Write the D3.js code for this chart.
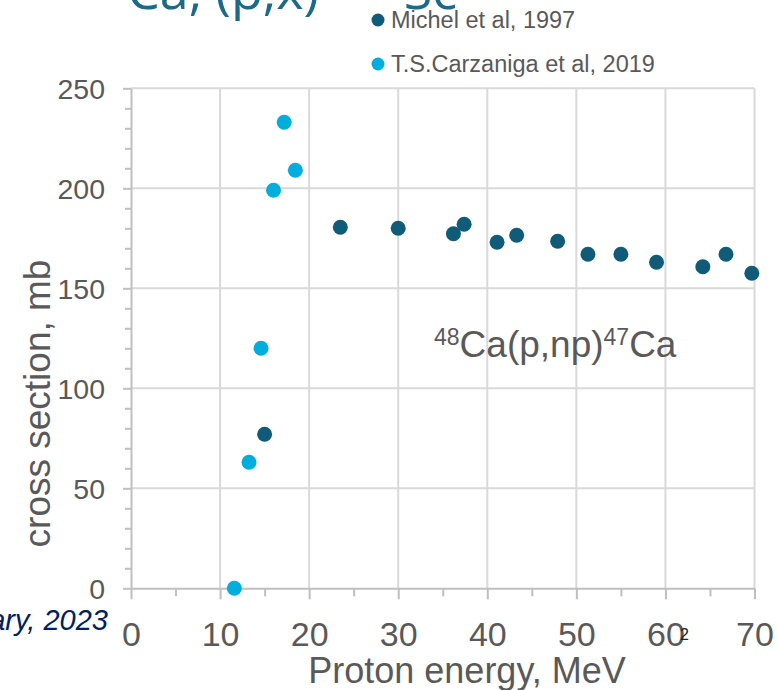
<!DOCTYPE html>
<html>
<head>
<meta charset="utf-8">
<script src="https://cdn.jsdelivr.net/npm/d3@7"></script>
<style>
  html, body { margin: 0; padding: 0; background: #ffffff; }
  svg { display: block; }
</style>
</head>
<body>
<script>
// ---- data ----
const seriesNames = ["Michel et al, 1997", "T.S.Carzaniga et al, 2019"];
const michelEnergy = [15.0, 23.5, 30.0, 36.2, 37.4, 41.1, 43.3, 47.9, 51.3, 55.0, 59.0, 64.2, 66.8, 69.7];
const michelXS     = [77, 180.5, 180, 177.3, 182, 173, 176.5, 173.5, 167, 167, 163, 160.8, 167, 157.5];
const carzEnergy   = [11.6, 13.25, 14.6, 16.0, 17.2, 18.45];
const carzXS       = [0, 63, 120, 199, 233, 209];
const xTicks = [0, 10, 20, 30, 40, 50, 60, 70];
const yTicks = [0, 50, 100, 150, 200, 250];
const xMinorTicks = [5, 15, 25, 35, 45, 55, 65];
const yMinorTicks = [10, 20, 30, 40, 60, 70, 80, 90, 110, 120, 130, 140, 160, 170, 180, 190, 210, 220, 230, 240];

const colMichel = "#105b78";
const colCarz = "#00aede";
const textGray = "#595959";

const W = 778, H = 690;
const svg = d3.select("body").append("svg").attr("width", W).attr("height", H);
svg.append("rect").attr("width", W).attr("height", H).attr("fill", "#fff");

const x = d3.scaleLinear().domain([0, 70]).range([131, 754.5]);
const y = d3.scaleLinear().domain([0, 250]).range([588.3, 88.3]);

// slide title (mostly above the visible area)
const title = svg.append("text")
  .attr("x", 127).attr("y", 9)
  .attr("font-family", "'Open Sans', sans-serif")
  .attr("font-size", 52)
  .attr("fill", "#1b6a89");
title.append("tspan").text("Ca, (p,x)");
title.append("tspan").attr("dx", 85).text("Sc");

// gridlines
svg.append("g").selectAll("line").data(xTicks.filter(d => d > 0)).join("line")
  .attr("x1", d => x(d)).attr("x2", d => x(d))
  .attr("y1", y(250)).attr("y2", y(0))
  .attr("stroke", "#d9d9d9").attr("stroke-width", 2);
svg.append("g").selectAll("line").data(yTicks.filter(d => d > 0)).join("line")
  .attr("x1", x(0)).attr("x2", x(70))
  .attr("y1", d => y(d)).attr("y2", d => y(d))
  .attr("stroke", "#d9d9d9").attr("stroke-width", 2);

// minor ticks
svg.append("g").attr("transform", `translate(0,${y(0)})`)
  .call(d3.axisBottom(x).tickValues(xMinorTicks).tickSize(8).tickFormat(""))
  .call(g => g.select(".domain").remove())
  .call(g => g.selectAll("line").attr("stroke", "#bfbfbf").attr("stroke-width", 2));
svg.append("g").attr("transform", `translate(${x(0)},0)`)
  .call(d3.axisLeft(y).tickValues(yMinorTicks).tickSize(6).tickFormat(""))
  .call(g => g.select(".domain").remove())
  .call(g => g.selectAll("line").attr("stroke", "#bfbfbf").attr("stroke-width", 2));

// x axis
const gx = svg.append("g").attr("transform", `translate(0,${y(0)})`)
  .call(d3.axisBottom(x).tickValues(xTicks).tickSize(11).tickSizeOuter(0).tickFormat(d3.format("d")));
gx.select(".domain").attr("stroke", "#bfbfbf").attr("stroke-width", 2);
gx.selectAll("line").attr("stroke", "#bfbfbf").attr("stroke-width", 2);
gx.selectAll("text").attr("y", 58).attr("dy", 0)
  .attr("font-family", "'Liberation Sans', Arial, sans-serif").attr("font-size", 34).attr("fill", textGray);

// y axis
const gy = svg.append("g").attr("transform", `translate(${x(0)},0)`)
  .call(d3.axisLeft(y).tickValues(yTicks).tickSize(8).tickSizeOuter(0).tickPadding(18).tickFormat(d3.format("d")));
gy.select(".domain").attr("stroke", "#bfbfbf").attr("stroke-width", 2);
gy.selectAll("line").attr("stroke", "#bfbfbf").attr("stroke-width", 2);
gy.selectAll("text").attr("dy", "0.35em")
  .attr("font-family", "'Liberation Sans', Arial, sans-serif").attr("font-size", 28.5).attr("fill", textGray);

// axis titles
svg.append("text")
  .attr("x", 467).attr("y", 683)
  .attr("text-anchor", "middle")
  .attr("font-family", "'Liberation Sans', Arial, sans-serif").attr("font-size", 36).attr("fill", textGray)
  .text("Proton energy, MeV");
svg.append("text")
  .attr("transform", "translate(49.5,403.5) rotate(-90)")
  .attr("text-anchor", "middle")
  .attr("font-family", "'Liberation Sans', Arial, sans-serif").attr("font-size", 37).attr("fill", textGray)
  .text("cross section, mb");

// annotation
const ann = svg.append("text")
  .attr("x", 434).attr("y", 356.7)
  .attr("font-family", "'Liberation Sans', Arial, sans-serif").attr("font-size", 37).attr("fill", textGray);
ann.append("tspan").attr("dy", -12).attr("font-size", 23).text("48");
ann.append("tspan").attr("dy", 12).text("Ca(p,np)");
ann.append("tspan").attr("dy", -12).attr("font-size", 23).text("47");
ann.append("tspan").attr("dy", 12).text("Ca");

// points
svg.append("g").selectAll("circle").data(michelEnergy.map((e, i) => [e, michelXS[i]])).join("circle")
  .attr("cx", d => x(d[0])).attr("cy", d => y(d[1])).attr("r", 7.5).attr("fill", colMichel);
svg.append("g").selectAll("circle").data(carzEnergy.map((e, i) => [e, carzXS[i]])).join("circle")
  .attr("cx", d => x(d[0])).attr("cy", d => y(d[1])).attr("r", 7.5).attr("fill", colCarz);

// legend
const legend = svg.append("g");
[colMichel, colCarz].forEach((c, i) => {
  const ly = 20 + i * 44;
  legend.append("circle").attr("cx", 378).attr("cy", ly).attr("r", 6.5).attr("fill", c);
  legend.append("text").attr("x", 391).attr("y", ly + 8.3)
    .attr("font-family", "'Liberation Sans', Arial, sans-serif").attr("font-size", 23.5).attr("fill", textGray)
    .text(seriesNames[i]);
});

// slide footer remnants
svg.append("text")
  .attr("x", 108).attr("y", 630).attr("text-anchor", "end")
  .attr("font-family", "'Liberation Sans', Arial, sans-serif").attr("font-style", "italic")
  .attr("font-size", 29).attr("fill", "#002060")
  .text("February, 2023");
svg.append("text")
  .attr("x", 680).attr("y", 640)
  .attr("font-family", "'Liberation Sans', Arial, sans-serif")
  .attr("font-size", 16).attr("fill", "#222")
  .text("2");
</script>
</body>
</html>
